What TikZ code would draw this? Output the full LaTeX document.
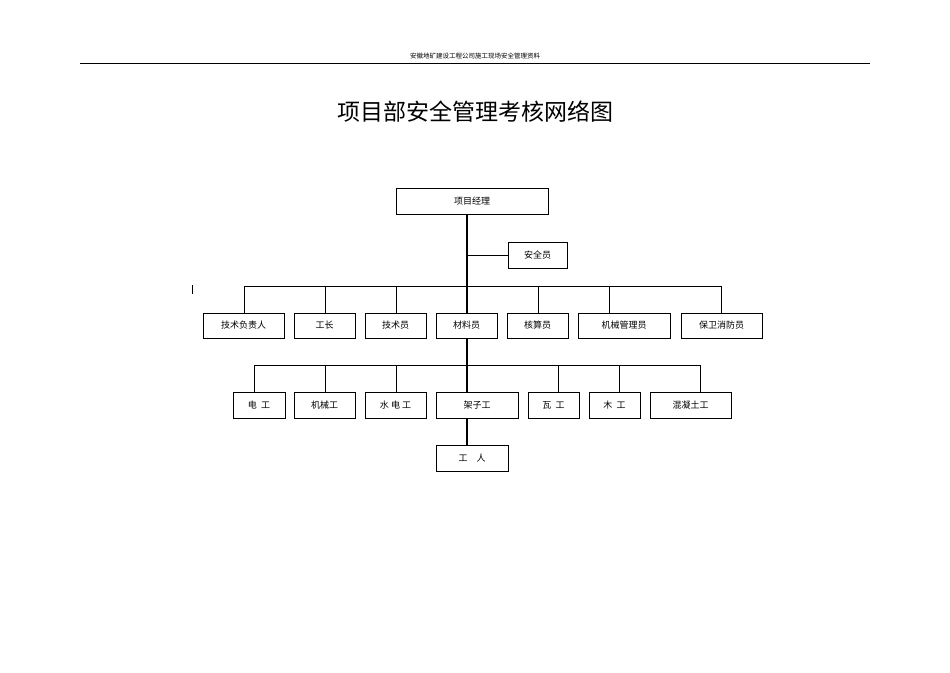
\documentclass[tikz,border=0pt]{standalone}
\usepackage{fontspec}
\newfontfamily\cjk{Noto Sans CJK SC}
\begin{document}
\begin{tikzpicture}[x=1pt,y=-1pt,
  bx/.style={draw,line width=0.9pt,font=\cjk\fontsize{9}{10}\selectfont,inner sep=0pt},
  ln/.style={line width=0.6pt},
  thk/.style={line width=1.3pt}]
\useasboundingbox (0,0) rectangle (950,672);
\node[font=\cjk\fontsize{6.5}{7}\selectfont] (hdr) at (475,56) {安徽地矿建设工程公司施工现场安全管理资料};
\draw[line width=0.8pt] (80,63) -- (870,63);
\node[font=\cjk\fontsize{23}{26}\selectfont] (title) at (475,112) {项目部安全管理考核网络图};
\draw[line width=1pt] (192,285) -- (192,294);
\newcommand\bxat[6]{\node[bx,minimum width=#3-#2,minimum height=#5-#4] (#1) at ({(#2+#3)/2},{(#4+#5)/2}) {#6};}
\bxat{pm}{396}{548}{188}{214}{项目经理}
\bxat{aq}{508}{567}{242}{268}{安全员}
\bxat{a1}{203}{284}{313}{338}{技术负责人}
\bxat{a2}{294}{355}{313}{338}{工长}
\bxat{a3}{365}{426}{313}{338}{技术员}
\bxat{a4}{436}{497}{313}{338}{材料员}
\bxat{a5}{507}{568}{313}{338}{核算员}
\bxat{a6}{578}{670}{313}{338}{机械管理员}
\bxat{a7}{681}{762}{313}{338}{保卫消防员}
\bxat{b1}{233}{285}{392}{418}{电\ \ 工}
\bxat{b2}{294}{355}{392}{418}{机械工}
\bxat{b3}{365}{426}{392}{418}{水\ 电\ 工}
\bxat{b4}{436}{518}{392}{418}{架子工}
\bxat{b5}{528}{579}{392}{418}{瓦\ \ 工}
\bxat{b6}{589}{640}{392}{418}{木\ \ 工}
\bxat{b7}{650}{731}{392}{418}{混凝土工}
\bxat{gr}{436}{508}{445}{471}{工\quad 人}
\coordinate (j1) at (244,286);
\coordinate (j2) at (721,286);
\coordinate (k1) at (254,365);
\coordinate (k2) at (700,365);
\coordinate (m) at (467,255);
\draw[thk] (pm.south -| m) -- (a4.north -| m);
\draw[ln] (m) -- (aq.west);
\draw[ln] (j1) -- (j2);
\foreach \n/\x in {a1/244,a2/325,a3/396,a5/538,a6/609,a7/721}
  \draw[ln] (\x,286) -- (\n.north -| \x,0);
\draw[thk] (a4.south -| m) -- (b4.north -| m);
\draw[ln] (k1) -- (k2);
\foreach \n/\x in {b1/254,b2/325,b3/396,b5/558,b6/619,b7/700}
  \draw[ln] (\x,365) -- (\n.north -| \x,0);
\draw[thk] (b4.south -| m) -- (gr.north -| m);
\end{tikzpicture}
\end{document}
